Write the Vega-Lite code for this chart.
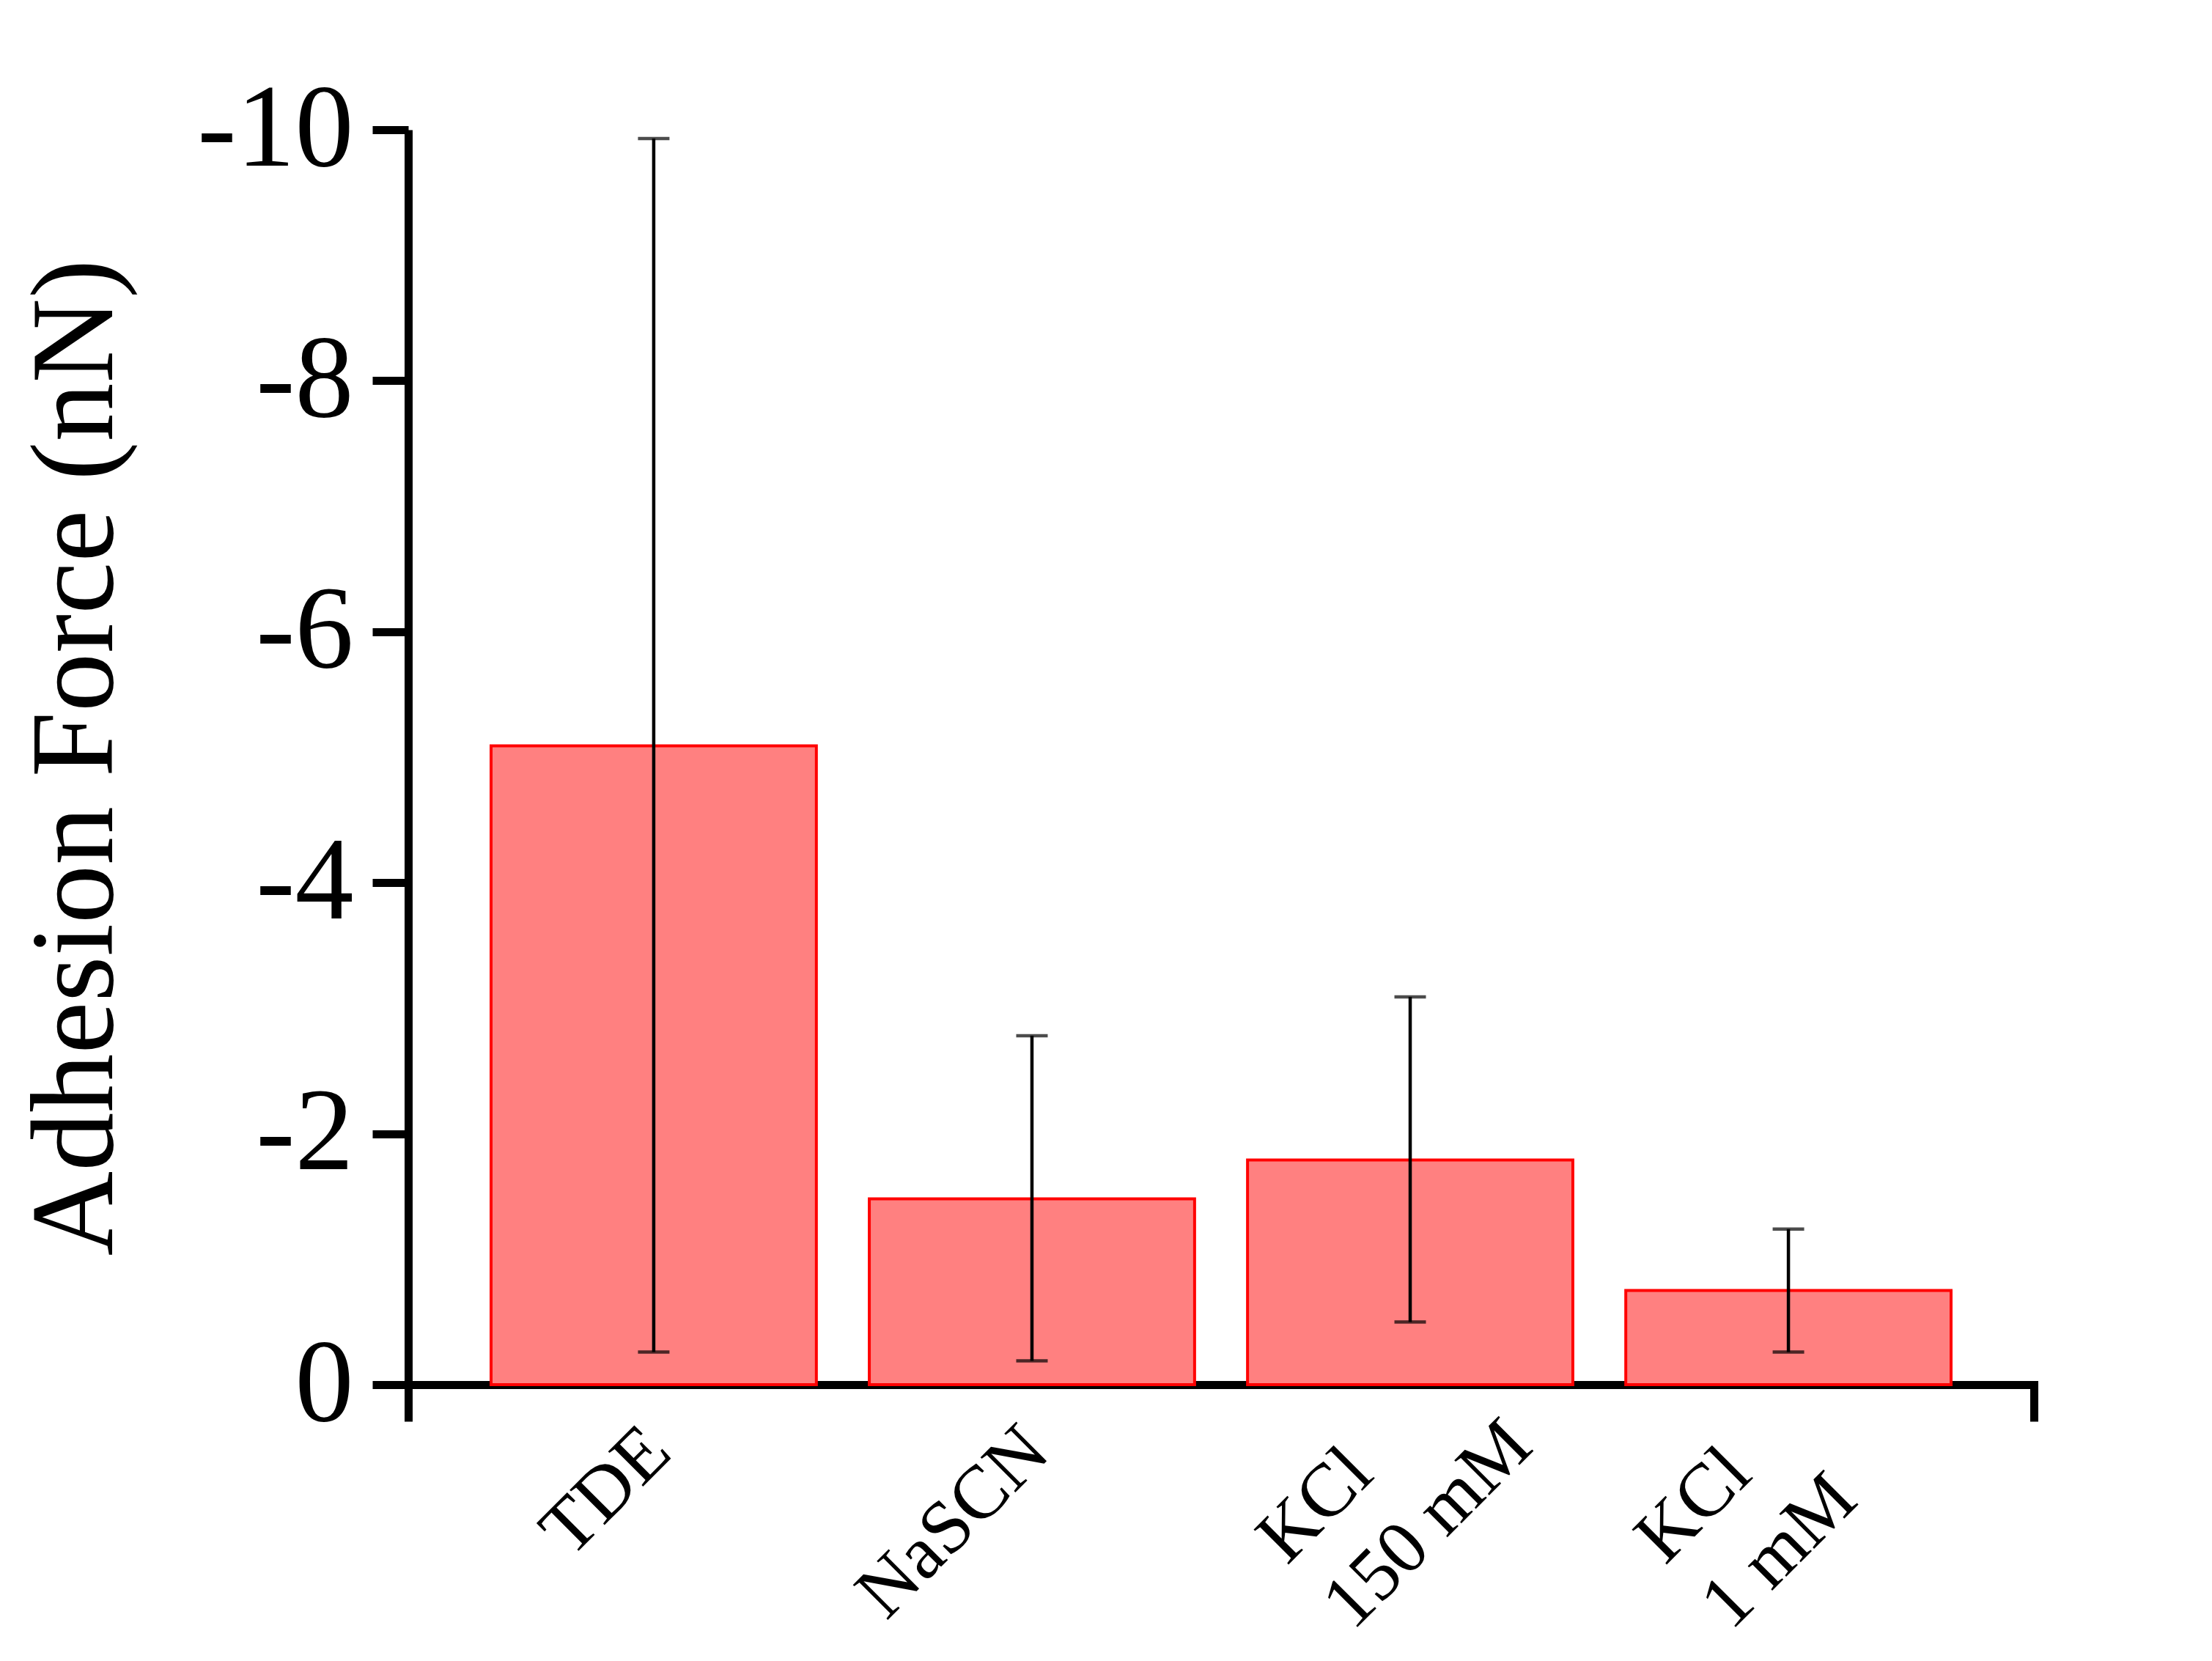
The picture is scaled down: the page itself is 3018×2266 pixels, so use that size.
{
  "$schema": "https://vega.github.io/schema/vega-lite/v6.json",
  "width": 2218,
  "height": 1712,
  "padding": {"left": 24, "top": 97, "right": 20, "bottom": 80},
  "background": "white",
  "config": {"view": {"stroke": null}, "font": "Liberation Serif"},
  "data": {"values": [
    {"condition": "TDE", "mean": -5.09, "low": -0.26, "high": -9.93},
    {"condition": "NaSCN", "mean": -1.48, "low": -0.19, "high": -2.78},
    {"condition": "KCl|150 mM", "mean": -1.79, "low": -0.5, "high": -3.09},
    {"condition": "KCl|1 mM", "mean": -0.75, "low": -0.26, "high": -1.24}
  ]},
  "layer": [
    {
      "encoding": {
        "x": {
          "field": "condition", "type": "nominal", "sort": null,
          "scale": {"paddingInner": 0.14, "paddingOuter": 0.219},
          "axis": {
            "title": null, "domainWidth": 11, "domainColor": "black", "domainCap": "square",
            "ticks": false, "labelAngle": -45,
            "labelAlign": {"condition": {"test": "indexof(datum.value, '|') >= 0", "value": "left"}, "value": "right"},
            "labelBaseline": "middle",
            "labelPadding": {"condition": {"test": "indexof(datum.value, '|') >= 0", "value": 225}, "value": 74},
            "labelOffset": {"condition": {"test": "indexof(datum.value, '|') >= 0", "value": -190}, "value": 6},
            "labelFontSize": 103, "labelFont": "Liberation Serif", "labelColor": "black",
            "labelExpr": "split(datum.value, '|')", "labelLineHeight": 127,
            "labelOverlap": false, "labelBound": false, "labelLimit": 0
          }
        }
      },
      "layer": [
        {
          "mark": {"type": "bar", "fill": "#FF8080", "stroke": "#FF0000", "strokeWidth": 4},
          "encoding": {
            "y": {
              "field": "mean", "type": "quantitative",
              "scale": {"domain": [-10, 0], "reverse": true, "nice": false, "zero": false},
              "axis": {
                "title": "Adhesion Force (nN)", "titleFont": "Liberation Serif", "titleFontSize": 160,
                "titleFontWeight": "normal", "titleColor": "black", "titlePadding": 171,
                "values": [-10, -8, -6, -4, -2, 0],
                "labelExpr": "datum.value == 0 ? '0' : '-' + abs(datum.value)",
                "labelFont": "Liberation Serif", "labelFontSize": 160, "labelColor": "black", "labelPadding": 26,
                "labelLimit": 0,
                "tickSize": 49, "tickWidth": 11, "tickColor": "black",
                "domainWidth": 11, "domainColor": "black", "grid": false
              }
            }
          }
        },
        {
          "mark": {"type": "rule", "strokeWidth": 4.5, "color": "black"},
          "encoding": {
            "y": {"field": "low", "type": "quantitative"},
            "y2": {"field": "high"}
          }
        },
        {
          "mark": {"type": "tick", "size": 43, "thickness": 4.5, "color": "black", "orient": "horizontal"},
          "encoding": {"y": {"field": "low", "type": "quantitative"}}
        },
        {
          "mark": {"type": "tick", "size": 43, "thickness": 4.5, "color": "black", "orient": "horizontal"},
          "encoding": {"y": {"field": "high", "type": "quantitative"}}
        }
      ]
    },
    {
      "mark": {"type": "point", "opacity": 0},
      "encoding": {
        "x": {
          "datum": 0, "type": "quantitative",
          "scale": {"domain": [0, 1], "nice": false, "zero": false},
          "axis": {
            "orient": "bottom", "values": [0, 1], "tickSize": 50, "tickWidth": 11, "tickColor": "black",
            "labels": false, "domain": false, "grid": false, "title": null
          }
        }
      }
    }
  ],
  "resolve": {"scale": {"x": "independent"}, "axis": {"x": "independent"}}
}
